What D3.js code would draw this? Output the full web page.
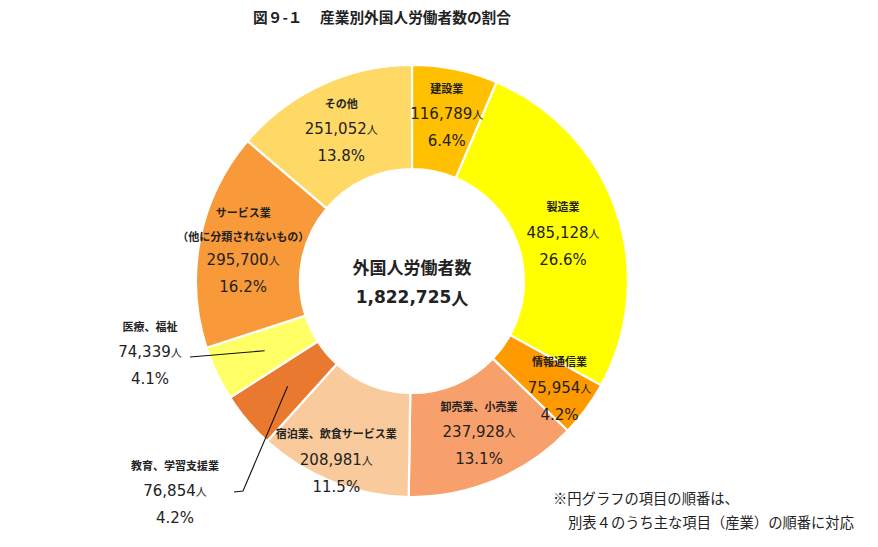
<!DOCTYPE html>
<html><head><meta charset="utf-8">
<script src="https://cdn.jsdelivr.net/npm/d3@7"></script>
<style>
html,body{margin:0;padding:0;background:#fff;}
svg{display:block;}
text{fill:#222;}
</style></head>
<body>
<svg id="chart" width="878" height="547"></svg>
<script>
// ---- data ----
const categories = ["建設業","製造業","情報通信業","卸売業、小売業","宿泊業、飲食サービス業","教育、学習支援業","医療、福祉","サービス業\n（他に分類されないもの）","その他"];
const workers = [116789,485128,75954,237928,208981,76854,74339,295700,251052];
const percents = ["6.4%","26.6%","4.2%","13.1%","11.5%","4.2%","4.1%","16.2%","13.8%"];
const colors = ["#FFC000","#FFFF00","#FF9900","#F8A06C","#F9CB9C","#E8792F","#FFFF66","#F8993A","#FFD966"];
const centerTitle = "外国人労働者数";
const totalLabel = "1,822,725";
const figNo = "図９-１";
const title = "産業別外国人労働者数の割合";
const notes = ["※円グラフの項目の順番は、","別表４のうち主な項目（産業）の順番に対応"];

// ---- layout ----
const svg = d3.select("#chart");
const cx = 412, cy = 281, rOuter = 216, rInner = 112;
const g = svg.append("g").attr("transform", `translate(${cx},${cy})`);

const pie = d3.pie().sort(null).value(d => d.v);
const data = categories.map((c,i)=>({c, v:workers[i], p:percents[i], col:colors[i]}));
const arcs = pie(data);
const arc = d3.arc().innerRadius(rInner).outerRadius(rOuter);

g.selectAll("path.slice").data(arcs).enter().append("path")
  .attr("class","slice")
  .attr("d", arc)
  .attr("fill", d => d.data.col)
  .attr("stroke", "#fff").attr("stroke-width", 2.2);

const fmt = d3.format(",");
const FONT_JP = "'Noto Sans CJK JP', sans-serif";
const FONT_NUM = "'DejaVu Sans', 'Noto Sans CJK JP', sans-serif";

// label placement: inside labels sit on the slice mid-angle at radius r (+ small nudges);
// outside labels sit at a position relative to the chart centre, with a leader to the centroid.
const labelCfg = {
  0: {r: 164, dx: 2, dy: -6},
  1: {r: 164, dx: -4, dy: 5},
  2: {r: 182, dx: 1, dy: -1},
  3: {r: 164, dx: 4, dy: 0},
  4: {r: 190, dx: -6, dy: 2},
  5: {outside: true, x: -237, y: 210, leader: [[-169, 210], [-178, 211]]},
  6: {outside: true, x: -262, y: 71, leader: [[-222, 76]]},
  7: {r: 164, dx: -8, dy: 11},
  8: {r: 164, dx: -2, dy: -3}
};
const pol = (a, r) => [r*Math.sin(a), -r*Math.cos(a)];

arcs.forEach((d,i) => {
  const cfg = labelCfg[i];
  const mid = (d.startAngle + d.endAngle)/2;
  let lx, ly;
  if (cfg.outside) {
    const c = pol(mid, 163);
    lx = cfg.x; ly = cfg.y;
    g.append("path").attr("d", d3.line()([c].concat(cfg.leader))).attr("fill","none")
      .attr("stroke","#111").attr("stroke-width",1.1);
  } else {
    const p = pol(mid, cfg.r);
    lx = p[0] + cfg.dx; ly = p[1] + cfg.dy;
  }
  const names = d.data.c.split("\n");
  const lg = g.append("g").attr("transform", `translate(${lx},${ly})`);
  const step = names.length > 1 ? 24.5 : 26.5;
  names.forEach((n,k) => {
    lg.append("text").attr("x", 0)
      .attr("y", (k - names.length)*step + (names.length>1 && k===0 ? 1 : 0))
      .attr("text-anchor","middle").attr("dominant-baseline","central")
      .attr("font-family", FONT_JP).attr("font-weight","bold").attr("font-size",11)
      .text(n);
  });
  const num = lg.append("text").attr("x",0).attr("y",0)
    .attr("text-anchor","middle").attr("dominant-baseline","central")
    .attr("font-family", FONT_NUM).attr("font-size",15);
  num.append("tspan").text(fmt(d.data.v));
  num.append("tspan").attr("font-size",11).attr("font-family",FONT_JP).text("人");
  lg.append("text").attr("x",0).attr("y",27)
    .attr("text-anchor","middle").attr("dominant-baseline","central")
    .attr("font-family", FONT_NUM).attr("font-size",15)
    .text(d.data.p);
});

// center text
g.append("text").attr("x",0).attr("y",-15).attr("text-anchor","middle")
  .attr("dominant-baseline","central").attr("font-family",FONT_JP)
  .attr("font-weight","bold").attr("font-size",17).text(centerTitle);
const tot = g.append("text").attr("x",0).attr("y",16).attr("text-anchor","middle")
  .attr("dominant-baseline","central").attr("font-family",FONT_NUM)
  .attr("font-weight","bold").attr("font-size",17);
tot.append("tspan").text(totalLabel);
tot.append("tspan").attr("font-family",FONT_JP).text("人");

// title
svg.append("text").attr("x",253).attr("y",16).attr("dominant-baseline","central")
  .attr("font-family",FONT_JP).attr("font-weight","bold").attr("font-size",14.7)
  .text(figNo);
svg.append("text").attr("x",320).attr("y",16).attr("dominant-baseline","central")
  .attr("font-family",FONT_JP).attr("font-weight","bold").attr("font-size",14.7)
  .text(title);

// notes
svg.append("text").attr("x",553).attr("y",497).attr("dominant-baseline","central")
  .attr("font-family",FONT_JP).attr("font-size",14.3).text(notes[0]);
svg.append("text").attr("x",568).attr("y",521).attr("dominant-baseline","central")
  .attr("font-family",FONT_JP).attr("font-size",14.3).text(notes[1]);
</script>
</body></html>
